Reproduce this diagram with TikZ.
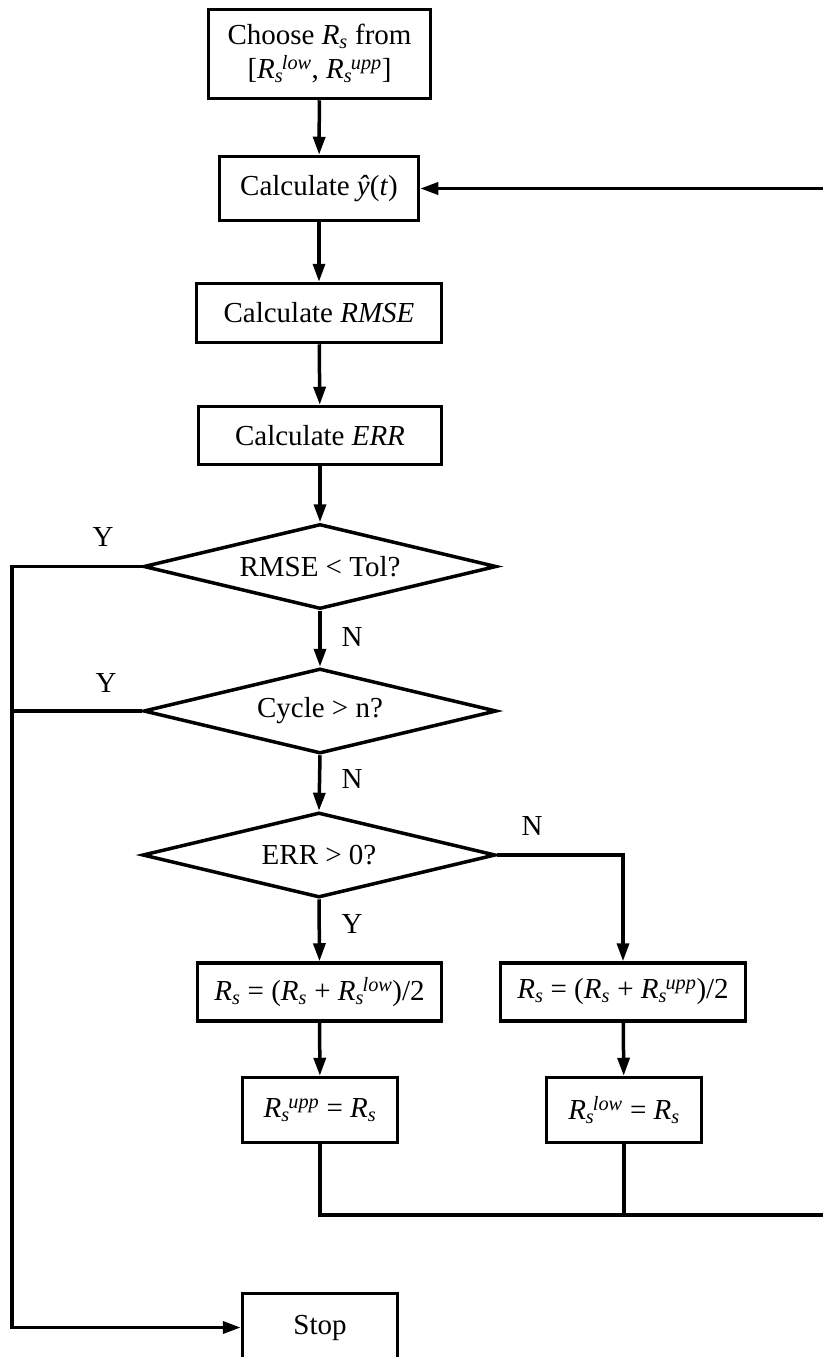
\documentclass[tikz,border=0pt]{standalone}
\usepackage{fontspec}
\setmainfont{Liberation Serif}
\usetikzlibrary{shapes.geometric,arrows.meta}
\newcommand{\Rsub}{\textit{R}\textsubscript{\textit{s}}}
\newcommand{\Rsupsub}[1]{\textit{R}\textsubscript{\textit{s}}\kern-0.05em\textsuperscript{\textit{#1}}}
\begin{document}
\begin{tikzpicture}[x=1pt,y=-1pt,
  font=\fontsize{29}{34}\selectfont,
  every node/.style={inner sep=0pt},
  box/.style={draw,line width=3.5pt,align=center},
  dia/.style={draw,line width=3.5pt,diamond,aspect=4,minimum width=353pt,minimum height=85pt},
  conn/.style={line width=3.5pt},
  arr/.style={conn,-{Triangle[length=18pt,width=12pt]}},
  lbl/.style={}]
\useasboundingbox (0,0) rectangle (822,1357);
\fill[white] (0,0) rectangle (822,1357);
\node[box,minimum width=222pt,minimum height=89pt] (b1) at (319.5,54) {Choose \Rsub{} from\\{}[\Rsupsub{low}, \Rsupsub{upp}]};
\node[box,minimum width=199pt,minimum height=64pt] (b2) at (319,188.5) {Calculate \textit{ŷ}(\textit{t})};
\node[box,minimum width=245pt,minimum height=59pt] (b3) at (319,313) {Calculate \textit{RMSE}};
\node[box,minimum width=243pt,minimum height=58pt] (b4) at (320,435.5) {Calculate \textit{ERR}};
\node[dia] (d1) at (320,566.5) {RMSE < Tol?};
\node[dia] (d2) at (320,711) {Cycle > n?};
\node[dia] (d3) at (319,855) {ERR > 0?};
\node[box,minimum width=244pt,minimum height=58pt] (b5) at (319.5,992) {\Rsub{} = (\Rsub{} + \Rsupsub{low})/2};
\node[box,minimum width=245pt,minimum height=58pt] (b6) at (623,992) {\Rsub{} = (\Rsub{} + \Rsupsub{upp})/2};
\node[box,minimum width=155pt,minimum height=65pt] (b7) at (320,1110) {\Rsupsub{upp} = \Rsub};
\node[box,minimum width=155pt,minimum height=65pt] (b8) at (624,1110) {\Rsupsub{low} = \Rsub};
\node[box,minimum width=155pt,minimum height=68pt] (stop) at (320,1327.5) {Stop};
\coordinate (jr) at (828,1215);
\coordinate (jl) at (12,1327.5);
\draw[arr] (b1) -- (b2);
\draw[arr] (b2) -- (b3);
\draw[arr] (b3) -- (b4);
\draw[arr] (b4.south) -- (d1.north);
\draw[arr] (d1.south) -- (d2.north);
\draw[arr] (d2.south) -- (d3.north);
\draw[arr] (d3.south) -- (b5.north);
\draw[arr] (d3.east) -| (b6.north);
\draw[arr] (b5) -- (b7);
\draw[arr] (b6) -- (b8);
\draw[conn] (b7.south) |- (jr);
\draw[conn] (b8.south) -- (b8.south |- jr);
\draw[arr] (jr) |- (b2.east);
\draw[arr] (d1.west) -| (jl) -- (stop.west);
\draw[conn] (d2.west) -- (d2.west -| jl);
\node[lbl] (y1) at (103,537) {Y};
\node[lbl] (y2) at (106,683) {Y};
\node[lbl] (n1) at (352,637) {N};
\node[lbl] (n2) at (352,779) {N};
\node[lbl] (n3) at (532,826) {N};
\node[lbl] (y3) at (352,924) {Y};
\end{tikzpicture}
\end{document}
